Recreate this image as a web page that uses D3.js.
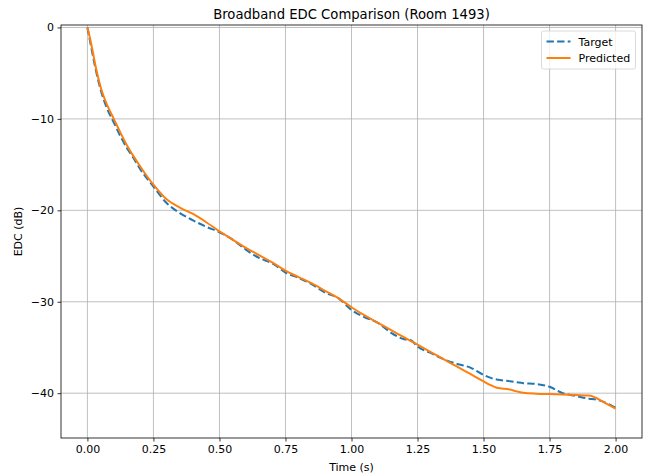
<!DOCTYPE html>
<html>
<head>
<meta charset="utf-8">
<script src="https://cdn.jsdelivr.net/npm/d3@7"></script>
<style>
  body { margin: 0; background: #fff; }
  svg { font-family: "DejaVu Sans", sans-serif; }
</style>
</head>
<body>
<svg id="chart" width="654" height="475"></svg>
<script>
// time (s) sample points
const times = [0, 0.01, 0.02, 0.03, 0.04, 0.05, 0.075, 0.1, 0.125, 0.15, 0.175, 0.2, 0.25, 0.3, 0.35, 0.4, 0.45, 0.5,
  0.55, 0.6, 0.65, 0.7, 0.75, 0.8, 0.85, 0.9, 0.95, 1.0, 1.05, 1.1, 1.15, 1.2, 1.225, 1.25, 1.3, 1.35, 1.4, 1.45, 1.5,
  1.525, 1.55, 1.6, 1.625, 1.65, 1.7, 1.75, 1.8, 1.85, 1.9, 1.925, 1.95, 2.0];

const targetEdc = [0, -1.5, -3.0, -4.4, -5.7, -6.8, -8.9, -10.4, -11.9, -13.2, -14.3, -15.5, -17.4, -19.2, -20.3, -21.1, -21.8, -22.4,
  -23.2, -24.3, -25.2, -25.8, -26.8, -27.4, -28.1, -29.0, -29.6, -30.9, -31.7, -32.3, -33.4, -34.1, -34.2, -34.9, -35.6, -36.3, -36.8, -37.2, -38.0,
  -38.3, -38.5, -38.7, -38.8, -38.9, -39.0, -39.3, -40.0, -40.3, -40.6, -40.7, -40.9, -41.6];

const predictedEdc = [0, -1.2, -2.6, -4.1, -5.4, -6.5, -8.5, -10.0, -11.5, -12.9, -14.1, -15.2, -17.2, -18.8, -19.7, -20.4, -21.3, -22.3,
  -23.2, -24.1, -24.9, -25.7, -26.6, -27.3, -28.0, -28.8, -29.6, -30.6, -31.5, -32.3, -33.1, -33.9, -34.3, -34.7, -35.5, -36.3, -37.1, -37.9, -38.7,
  -39.1, -39.4, -39.6, -39.8, -39.95, -40.05, -40.1, -40.15, -40.2, -40.25, -40.5, -40.9, -41.7];

const xTicks = [0, 0.25, 0.5, 0.75, 1.0, 1.25, 1.5, 1.75, 2.0];
const yTicks = [0, -10, -20, -30, -40];

const svg = d3.select("#chart");
const margin = { top: 25, right: 12, bottom: 37, left: 61 };
const width = 654 - margin.left - margin.right;
const height = 475 - margin.top - margin.bottom;

const x = d3.scaleLinear().domain([-0.1, 2.1]).range([0, width]);
const y = d3.scaleLinear().domain([-44.9, 0.27]).range([height, 0]);

const g = svg.append("g").attr("transform", `translate(${margin.left},${margin.top})`);

// grid
g.append("g").selectAll("line").data(xTicks).join("line")
  .attr("x1", d => x(d)).attr("x2", d => x(d)).attr("y1", 0).attr("y2", height)
  .attr("stroke", "#b0b0b0").attr("stroke-width", 0.8);
g.append("g").selectAll("line").data(yTicks).join("line")
  .attr("y1", d => y(d)).attr("y2", d => y(d)).attr("x1", 0).attr("x2", width)
  .attr("stroke", "#b0b0b0").attr("stroke-width", 0.8);

// axes
const fmtX = d3.format(".2f");
const fmtY = d => d3.format("d")(d).replace("-", "\u2212");
const xAxis = g.append("g").attr("transform", `translate(0,${height})`)
  .call(d3.axisBottom(x).tickValues(xTicks).tickFormat(fmtX).tickSize(3.5).tickPadding(3.5));
const yAxis = g.append("g")
  .call(d3.axisLeft(y).tickValues(yTicks).tickFormat(fmtY).tickSize(3.5).tickPadding(3.5));
[xAxis, yAxis].forEach(a => {
  a.select(".domain").remove();
  a.selectAll("text").attr("font-size", 11).attr("fill", "#000").attr("font-family", "DejaVu Sans");
  a.selectAll("line").attr("stroke", "#000").attr("stroke-width", 0.8);
});

const line = d3.line().curve(d3.curveMonotoneX);
const pts = vals => times.map((t, i) => [x(t), y(vals[i])]);

g.append("path").attr("d", line(pts(targetEdc)))
  .attr("fill", "none").attr("stroke", "#1f77b4").attr("stroke-width", 2)
  .attr("stroke-dasharray", "7.4,3.2");
g.append("path").attr("d", line(pts(predictedEdc)))
  .attr("fill", "none").attr("stroke", "#ff7f0e").attr("stroke-width", 2);

// frame
g.append("rect").attr("width", width).attr("height", height)
  .attr("fill", "none").attr("stroke", "#000").attr("stroke-width", 0.8);

// labels
svg.append("text").attr("x", margin.left + width / 2).attr("y", 19)
  .attr("text-anchor", "middle").attr("font-size", 13.2).text("Broadband EDC Comparison (Room 1493)");
svg.append("text").attr("x", margin.left + width / 2).attr("y", 471)
  .attr("text-anchor", "middle").attr("font-size", 11).text("Time (s)");
svg.append("text").attr("transform", `translate(21.5,${margin.top + height / 2}) rotate(-90)`)
  .attr("text-anchor", "middle").attr("font-size", 11).text("EDC (dB)");

// legend
const legend = svg.append("g").attr("transform", "translate(541.5,31)");
legend.append("rect").attr("width", 94).attr("height", 38).attr("rx", 2)
  .attr("fill", "#fff").attr("fill-opacity", 0.8).attr("stroke", "#d0d0d0").attr("stroke-width", 0.8);
const items = [
  { name: "Target", color: "#1f77b4", dash: "7.4,3.2" },
  { name: "Predicted", color: "#ff7f0e", dash: null }
];
items.forEach((it, i) => {
  const row = legend.append("g").attr("transform", `translate(0,${10.5 + i * 16.5})`);
  row.append("line").attr("x1", 5).attr("x2", 29).attr("y1", 0).attr("y2", 0)
    .attr("stroke", it.color).attr("stroke-width", 2).attr("stroke-dasharray", it.dash);
  row.append("text").attr("x", 37).attr("y", 4).attr("font-size", 11).text(it.name);
});
</script>
</body>
</html>
